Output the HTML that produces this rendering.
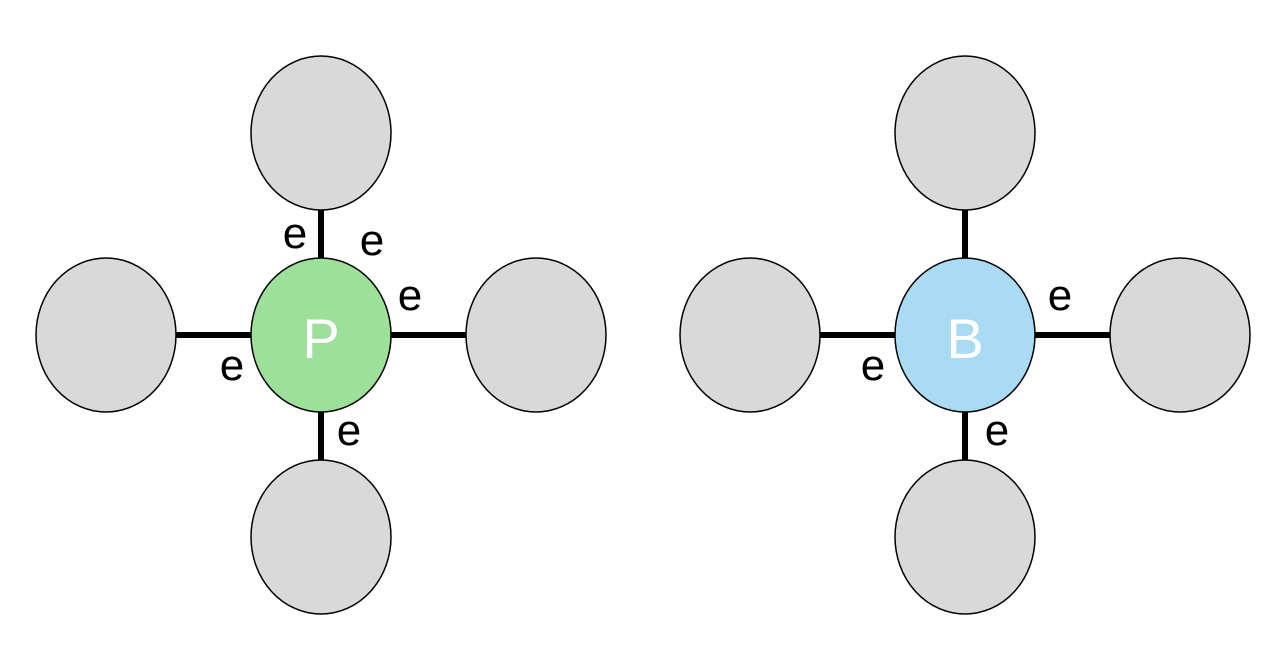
<!DOCTYPE html>
<html><head><style>body{margin:0;background:#fff}</style></head><body>
<svg width="1280" height="671" xmlns="http://www.w3.org/2000/svg" style="display:block">
<g stroke="#000" stroke-width="6">
<line x1="321" y1="200" x2="321" y2="470"/>
<line x1="170" y1="335" x2="470" y2="335"/>
<line x1="965" y1="200" x2="965" y2="470"/>
<line x1="815" y1="335" x2="1115" y2="335"/>
</g>
<g stroke="#000" stroke-width="1.5" fill="#d9d9d9">
<ellipse cx="321" cy="133" rx="70" ry="77"/>
<ellipse cx="321" cy="537" rx="70" ry="77"/>
<ellipse cx="106" cy="335" rx="70" ry="77"/>
<ellipse cx="536" cy="335" rx="70" ry="77"/>
<ellipse cx="965" cy="133" rx="70" ry="77"/>
<ellipse cx="965" cy="537" rx="70" ry="77"/>
<ellipse cx="750" cy="335" rx="70" ry="77"/>
<ellipse cx="1180" cy="335" rx="70" ry="77"/>
<ellipse cx="321" cy="335" rx="70" ry="77" fill="#9de09a"/>
<ellipse cx="965" cy="335" rx="70" ry="77" fill="#a9dbf4"/>
</g>
<g font-family="Liberation Sans, sans-serif" text-anchor="middle">
<text x="321" y="358" font-size="56" fill="#fff">P</text>
<text x="965" y="358" font-size="56" fill="#fff">B</text>
<g font-size="44" fill="#000">
<text x="295" y="248">e</text>
<text x="372" y="255">e</text>
<text x="410" y="310">e</text>
<text x="232" y="380">e</text>
<text x="349" y="445">e</text>
<text x="1060" y="310">e</text>
<text x="873" y="380">e</text>
<text x="997" y="445">e</text>
</g></g>
</svg>
</body></html>
